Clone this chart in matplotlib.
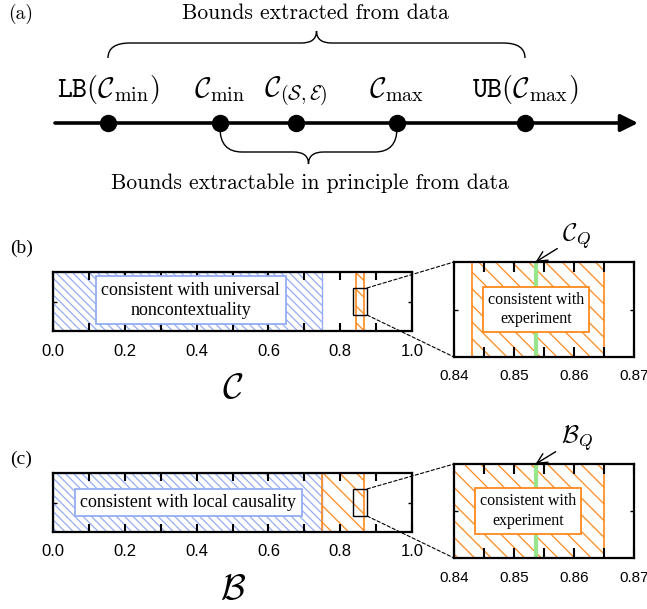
import numpy as np
import matplotlib
matplotlib.use('Agg')
import matplotlib.pyplot as plt
from matplotlib.path import Path
from matplotlib.patches import PathPatch, Rectangle, ConnectionPatch

plt.rcParams['mathtext.fontset'] = 'cm'
plt.rcParams['hatch.linewidth'] = 0.9

# ---- data ----
# panel (a): positions along the schematic line (pixels)
pt_x = [108, 220, 296, 397, 525]
pt_lab = [r'$\mathtt{LB}(\mathcal{C}_{\min})$', r'$\mathcal{C}_{\min}$',
          r'$\mathcal{C}_{(\mathcal{S},\mathcal{E})}$', r'$\mathcal{C}_{\max}$',
          r'$\mathtt{UB}(\mathcal{C}_{\max})$']

# panels (b), (c)
classical_C = (0.0, 0.75)
classical_B = (0.0, 0.75)
exp_C = (0.843, 0.865)
exp_B = (0.75, 0.865)
quantum_val = 0.8536
zoom_win = (0.835, 0.875)

main_ticks = [0.0, 0.2, 0.4, 0.6, 0.8, 1.0]
main_minor = [0.1, 0.3, 0.5, 0.7, 0.9]
main_labels = ['0.0', '0.2', '0.4', '0.6', '0.8', '1.0']
ins_ticks = [0.84, 0.85, 0.86, 0.87]
ins_minor = [0.845, 0.855, 0.865]
ins_labels = ['0.84', '0.85', '0.86', '0.87']

blue = '#95adf2'
orange = '#ff8a1c'
green = '#98e68c'

W, H = 647, 609
fig = plt.figure(figsize=(W / 100, H / 100), dpi=100)


def fr(x0, y0, x1, y1):
    # pixel box -> figure fraction rect
    return [x0 / W, 1 - y1 / H, (x1 - x0) / W, (y1 - y0) / H]


# ---------------- panel (a) ----------------
axa = fig.add_axes([0, 0, 1, 1])
axa.set_xlim(0, W)
axa.set_ylim(H, 0)
axa.axis('off')


def brace(ax, x0, x1, ye, yh, yt, r1, r2):
    xc = (x0 + x1) / 2
    verts = [(x0, ye), (x0, yh), (x0 + r1, yh),
             (xc - r2, yh), (xc, yh), (xc, yt),
             (xc, yh), (xc + r2, yh),
             (x1 - r1, yh), (x1, yh), (x1, ye)]
    codes = [Path.MOVETO, Path.CURVE3, Path.CURVE3,
             Path.LINETO, Path.CURVE3, Path.CURVE3,
             Path.CURVE3, Path.CURVE3,
             Path.LINETO, Path.CURVE3, Path.CURVE3]
    ax.add_patch(PathPatch(Path(verts, codes), fc='none', ec='k', lw=1.0))


axa.annotate('', xy=(638, 123), xytext=(55, 123),
             arrowprops=dict(arrowstyle='-|>', lw=2.6, color='k',
                             mutation_scale=26, shrinkA=0, shrinkB=0))
axa.plot(pt_x, [123] * len(pt_x), 'o', color='k', ms=11.5)
for x, lab in zip(pt_x, pt_lab):
    axa.text(x, 97, lab, ha='center', va='baseline', fontsize=20.5)

brace(axa, pt_x[0], pt_x[-1], 58, 43, 31, 22, 15)
brace(axa, pt_x[1], pt_x[3], 128, 152, 164, 22, 15)
axa.text(315, 13, 'Bounds extracted from data', ha='center', va='center',
         fontsize=15.5, family='cmr10')
axa.text(310, 183, 'Bounds extractable in principle from data', ha='center',
         va='center', fontsize=15.5, family='cmr10')

fig.text(8 / W, 1 - 14 / H, '(a)', fontsize=14, family='cmr10', va='center')
fig.text(10 / W, 1 - 248 / H, '(b)', fontsize=14, family='Liberation Serif', va='center')
fig.text(10 / W, 1 - 459 / H, '(c)', fontsize=14, family='Liberation Serif', va='center')


# ---------------- panels (b), (c) ----------------
def style(ax, major, minor, labels, fs):
    ax.set_xticks(major)
    ax.set_xticklabels(labels, family='Liberation Sans', fontsize=fs)
    ax.set_xticks(minor, minor=True)
    ax.set_yticks([0.5])
    ax.set_yticklabels([])
    ax.set_ylim(0, 1)
    ax.tick_params(axis='x', which='both', direction='in', top=True, bottom=True,
                   length=6, width=1.5, pad=9)
    ax.tick_params(axis='y', direction='in', left=True, right=True, length=3, width=1)
    for s in ax.spines.values():
        s.set_linewidth(1.6)


def panel(main_box, ins_box, classical, exp, text, text_xy, ins_text_xy,
          xlabel, qlabel):
    ax = fig.add_axes(fr(*main_box))
    axin = fig.add_axes(fr(*ins_box))
    ax.set_xlim(0, 1)
    axin.set_xlim(0.84, 0.87)
    style(ax, main_ticks, main_minor, main_labels, 12)
    style(axin, ins_ticks, ins_minor, ins_labels, 11)
    axin.tick_params(axis='x', which='both', length=7)

    ax.axvspan(*classical, fc='none', ec=blue, hatch='\\\\\\\\', lw=1.0, zorder=1)
    for a in (ax, axin):
        a.axvspan(*exp, fc='none', ec=orange, hatch='\\\\', lw=1.2, zorder=1)
    axin.axvline(quantum_val, color=green, lw=3, zorder=2)

    ax.text(*text_xy, text, transform=ax.get_xaxis_transform(), ha='center',
            va='center', fontsize=13, family='Liberation Serif', zorder=5,
            linespacing=1.25,
            bbox=dict(boxstyle='square,pad=0.3', fc='white', ec=blue, lw=1.3))
    axin.text(*ins_text_xy, 'consistent with\nexperiment',
              transform=axin.get_xaxis_transform(), ha='center', va='center',
              fontsize=11.5, family='Liberation Serif', zorder=5, linespacing=1.3,
              bbox=dict(boxstyle='square,pad=0.3', fc='white', ec=orange, lw=1.3))

    tr = ax.get_xaxis_transform()
    ax.add_patch(Rectangle((zoom_win[0], 0.27), zoom_win[1] - zoom_win[0], 0.46,
                           transform=tr, fc='none', ec='k', lw=1.0, zorder=4))
    for ya, yb in ((0.73, 1.0), (0.27, 0.0)):
        con = ConnectionPatch(xyA=(zoom_win[1], ya), coordsA=tr,
                              xyB=(0.0, yb), coordsB=axin.transAxes,
                              ls=(0, (3, 2)), lw=0.8, color='k')
        fig.add_artist(con)

    axin.annotate(qlabel, xy=(quantum_val, 1.0), xycoords=axin.get_xaxis_transform(),
                  xytext=(0.8605, 1.27), textcoords=axin.get_xaxis_transform(),
                  ha='center', va='center', fontsize=18,
                  arrowprops=dict(arrowstyle='->', lw=1.0, color='k',
                                  shrinkA=2, shrinkB=0))
    ax.set_xlabel(xlabel, fontsize=26, labelpad=9)


panel((53, 272, 412, 331), (454, 262, 634, 357), classical_C, exp_C,
      'consistent with universal\nnoncontextuality', (0.384, 0.52), (0.8537, 0.5),
      r'$\mathcal{C}$', r'$\mathcal{C}_Q$')
panel((53, 473, 412, 532), (454, 464, 634, 558), classical_B, exp_B,
      'consistent with local causality', (0.377, 0.5), (0.8523, 0.5),
      r'$\mathcal{B}$', r'$\mathcal{B}_Q$')

fig.savefig('out.png', dpi=100)
